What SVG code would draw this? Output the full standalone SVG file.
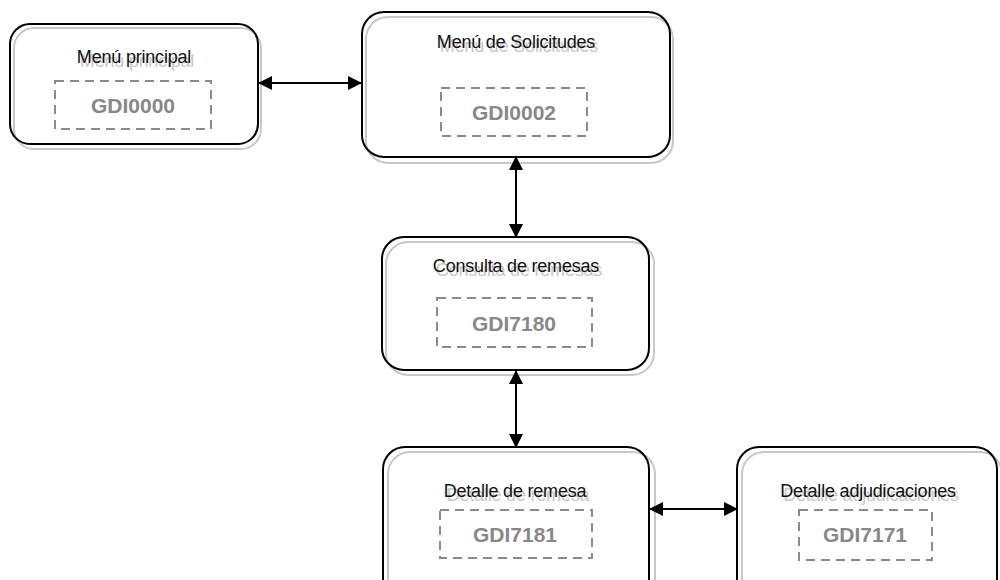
<svg xmlns="http://www.w3.org/2000/svg" width="1000" height="580" viewBox="0 0 1000 580">
<defs>
<style>
.shadow{fill:none;stroke:#c8c8c8;stroke-width:2}
.box{fill:none;stroke:#000;stroke-width:2}
.dash{fill:none;stroke:#8a8a8a;stroke-width:2;stroke-dasharray:9,6}
.t{font-family:"Liberation Sans",Arial,sans-serif;font-size:18px;text-anchor:middle;fill:#111;letter-spacing:-0.2px}
.ts{font-family:"Liberation Sans",Arial,sans-serif;font-size:18px;text-anchor:middle;fill:#c8c8c8;letter-spacing:-0.2px}
.code{font-family:"Liberation Sans",Arial,sans-serif;font-size:21px;font-weight:bold;text-anchor:middle;fill:#888}
.conn{stroke:#000;stroke-width:2;fill:none}
</style>
<marker id="ah" viewBox="0 0 14 14" refX="13" refY="7" markerWidth="14" markerHeight="14" markerUnits="userSpaceOnUse" orient="auto-start-reverse">
<path d="M0,0 L14,7 L0,14 Z" fill="#000"/>
</marker>
</defs>
<rect width="1000" height="580" fill="#fff"/>

<g id="node-menu-principal">
<rect class="shadow" x="14" y="28" width="247" height="121" rx="20"/>
<rect class="box" x="10" y="24" width="248" height="120" rx="20"/>
<text class="ts" x="137" y="67">Menú principal</text>
<text class="t" x="134" y="63">Menú principal</text>
<rect class="dash" x="55" y="81" width="156" height="48"/>
<text class="code" x="133" y="113">GDI0000</text>
</g>

<g id="node-menu-solicitudes">
<rect class="shadow" x="366" y="17" width="307" height="146" rx="22"/>
<rect class="box" x="362" y="12" width="308" height="145" rx="22"/>
<text class="ts" x="519" y="52">Menú de Solicitudes</text>
<text class="t" x="516" y="48">Menú de Solicitudes</text>
<rect class="dash" x="441" y="88" width="146" height="48"/>
<text class="code" x="514" y="120">GDI0002</text>
</g>

<g id="node-consulta-remesas">
<rect class="shadow" x="386" y="242" width="268" height="133" rx="22"/>
<rect class="box" x="382" y="237" width="267" height="133" rx="22"/>
<text class="ts" x="519" y="276">Consulta de remesas</text>
<text class="t" x="516" y="272">Consulta de remesas</text>
<rect class="dash" x="437" y="298" width="155" height="49"/>
<text class="code" x="514" y="331">GDI7180</text>
</g>

<g id="node-detalle-remesa">
<rect class="shadow" x="388" y="452" width="267" height="160" rx="22"/>
<rect class="box" x="383" y="447" width="266" height="160" rx="22"/>
<text class="ts" x="518" y="501">Detalle de remesa</text>
<text class="t" x="515" y="497">Detalle de remesa</text>
<rect class="dash" x="440" y="510" width="152" height="48"/>
<text class="code" x="515" y="542">GDI7181</text>
</g>

<g id="node-detalle-adjudicaciones">
<rect class="shadow" x="742" y="452" width="260" height="160" rx="22"/>
<rect class="box" x="737" y="447" width="260" height="160" rx="22"/>
<text class="ts" x="871" y="501">Detalle adjudicaciones</text>
<text class="t" x="868" y="497">Detalle adjudicaciones</text>
<rect class="dash" x="799" y="510" width="133" height="50"/>
<text class="code" x="865" y="542">GDI7171</text>
</g>

<g id="connectors">
<line class="conn" x1="259" y1="83" x2="361" y2="83" marker-start="url(#ah)" marker-end="url(#ah)"/>
<line class="conn" x1="516" y1="157" x2="516" y2="237" marker-start="url(#ah)" marker-end="url(#ah)"/>
<line class="conn" x1="516" y1="371" x2="516" y2="447" marker-start="url(#ah)" marker-end="url(#ah)"/>
<line class="conn" x1="650" y1="509" x2="737" y2="509" marker-start="url(#ah)" marker-end="url(#ah)"/>
</g>
</svg>
